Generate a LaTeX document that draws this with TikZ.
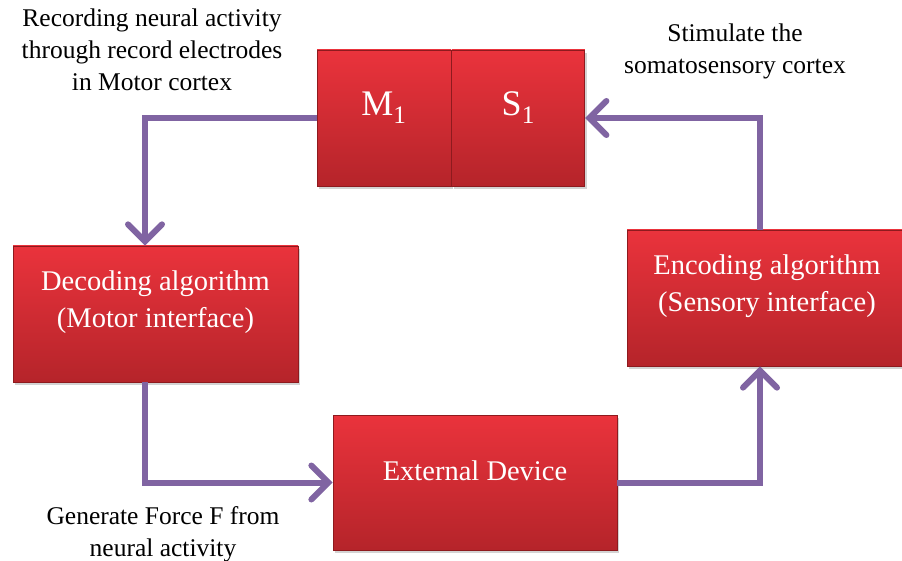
\documentclass[tikz,border=0pt]{standalone}
\usepackage{fontspec}
\setmainfont{Liberation Serif}
\usetikzlibrary{positioning,arrows.meta,shadows}
\definecolor{blocktop}{HTML}{EA333C}
\definecolor{blockbot}{HTML}{B5242A}
\definecolor{blockedge}{HTML}{8E1A1E}
\definecolor{flowpurple}{HTML}{8064A2}

\begin{document}
\begin{tikzpicture}[x=1pt,y=1pt,
	block/.style={rectangle,draw=blockedge,line width=0.8pt,top color=blocktop,bottom color=blockbot,
		drop shadow={shadow xshift=2pt,shadow yshift=-3pt,opacity=0.35}},
	blocktext/.style={text=white,align=center,font=\fontsize{28.5}{37}\selectfont,yshift=12pt},
	flow/.style={draw=flowpurple,line width=6pt,-{Straight Barb[length=17pt,width=34pt,line cap=round]}},
	note/.style={align=center,font=\fontsize{25.5}{32}\selectfont}]
		\useasboundingbox (0,0) rectangle (902,-561);
		
		\node[block,minimum width=134pt,minimum height=136pt,
			label={[blocktext,font=\fontsize{36}{40}\selectfont,yshift=-2pt]center:M\textsubscript{1}}] (m1) at (384,-118) {};
		\node[block,minimum width=133pt,minimum height=136pt,right=0pt of m1,
			label={[blocktext,font=\fontsize{36}{40}\selectfont,yshift=-2pt]center:S\textsubscript{1}}] (s1) {};
		
		\node[block,minimum width=285pt,minimum height=136pt,
			label={[blocktext]center:Decoding algorithm\\(Motor interface)}] (dec) at (155.5,-314) {};
		\node[block,minimum width=280pt,minimum height=136pt,
			label={[blocktext]center:Encoding algorithm\\(Sensory interface)}] (enc) at (767,-298) {};
		\node[block,minimum width=284pt,minimum height=135pt,
			label={[blocktext]center:External Device}] (ext) at (475,-482.5) {};
		
		\node[note] (rec) at (152,-50) {Recording neural activity\\through record electrodes\\in Motor cortex};
		\node[note] (stim) at (735,-51) {Stimulate the\\somatosensory cortex};
		\node[note] (gen) at (163,-534) {Generate Force F from\\neural activity};
		
		\coordinate (lx) at (145,0);
		\coordinate (rx) at (760,0);
		
		\draw[flow] (m1.west) -| (dec.north -| lx);
		\draw[flow] (dec.south -| lx) |- (ext.west);
		\draw[flow] (ext.east) -| (enc.south -| rx);
		\draw[flow] (enc.north -| rx) |- (s1.east);
	\end{tikzpicture}
\end{document}
